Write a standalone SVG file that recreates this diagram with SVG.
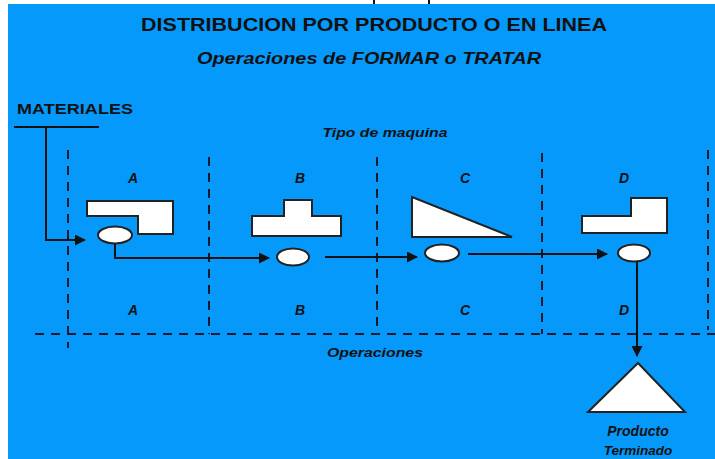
<svg xmlns="http://www.w3.org/2000/svg" width="715" height="459" viewBox="0 0 715 459">
<style>
.t{font-family:"Liberation Sans",Arial,sans-serif;font-weight:bold;fill:#111;}
.i{font-style:italic;}
.dash{stroke:#1a1a2a;stroke-width:2;stroke-dasharray:9 7;fill:none;}
.shape{fill:#fff;stroke:#222;stroke-width:2;}
.conn{stroke:#111;stroke-width:2;fill:none;}
</style>
<defs>
<marker id="ah" markerWidth="11" markerHeight="11" refX="10" refY="5.5" orient="auto" markerUnits="userSpaceOnUse">
<path d="M0,0 L11,5.5 L0,11 Z" fill="#111"/>
</marker>
</defs>
<rect x="0" y="0" width="715" height="459" fill="#fff"/>
<rect x="8" y="4" width="707" height="455" fill="#0599fb"/>
<line x1="374" y1="0" x2="374" y2="4" stroke="#111" stroke-width="2"/>
<line x1="429" y1="0" x2="429" y2="4" stroke="#111" stroke-width="2"/>

<g id="titles">
<text class="t" x="374" y="31" font-size="18.5" text-anchor="middle" textLength="466" lengthAdjust="spacingAndGlyphs">DISTRIBUCION POR PRODUCTO O EN LINEA</text>
<text class="t i" x="369" y="64" font-size="16" text-anchor="middle" textLength="344" lengthAdjust="spacingAndGlyphs">Operaciones de FORMAR o TRATAR</text>
<text class="t i" x="385" y="137" font-size="13" text-anchor="middle" textLength="125" lengthAdjust="spacingAndGlyphs">Tipo de maquina</text>
<text class="t i" x="375" y="357" font-size="13" text-anchor="middle" textLength="96" lengthAdjust="spacingAndGlyphs">Operaciones</text>
</g>

<g id="grid">
<line class="dash" x1="68" y1="150" x2="68" y2="348"/>
<line class="dash" x1="209" y1="157" x2="209" y2="334"/>
<line class="dash" x1="377" y1="157" x2="377" y2="334"/>
<line class="dash" x1="542" y1="153" x2="542" y2="334"/>
<line class="dash" x1="708" y1="150" x2="708" y2="330"/>
<line class="dash" x1="35" y1="334" x2="715" y2="334"/>
</g>

<g id="materiales">
<text class="t" x="17" y="114" font-size="15" textLength="116" lengthAdjust="spacingAndGlyphs">MATERIALES</text>
<line x1="14" y1="127" x2="99" y2="127" stroke="#111" stroke-width="2"/>
</g>

<g id="labels">
<text class="t i" x="133" y="183" font-size="14" text-anchor="middle">A</text>
<text class="t i" x="300" y="183" font-size="14" text-anchor="middle">B</text>
<text class="t i" x="465" y="183" font-size="14" text-anchor="middle">C</text>
<text class="t i" x="624" y="183" font-size="14" text-anchor="middle">D</text>
<text class="t i" x="133" y="315" font-size="14" text-anchor="middle">A</text>
<text class="t i" x="300" y="315" font-size="14" text-anchor="middle">B</text>
<text class="t i" x="465" y="315" font-size="14" text-anchor="middle">C</text>
<text class="t i" x="624" y="315" font-size="14" text-anchor="middle">D</text>
</g>

<g id="machineA">
<polygon class="shape" points="87,201 173,201 173,234 138,234 138,216 87,216"/>
<ellipse class="shape" cx="115" cy="235" rx="17" ry="8.5"/>
</g>
<g id="machineB">
<polygon class="shape" points="284,200 312,200 312,216 341,216 341,236 252,236 252,216 284,216"/>
<ellipse class="shape" cx="293" cy="257" rx="16" ry="8.5"/>
</g>
<g id="machineC">
<polygon class="shape" points="412,197 412,237 512,237"/>
<ellipse class="shape" cx="442" cy="253" rx="17" ry="8.5"/>
</g>
<g id="machineD">
<polygon class="shape" points="582,216 631,216 631,198 667,198 667,233 582,233"/>
<ellipse class="shape" cx="634" cy="253" rx="16" ry="8.5"/>
</g>

<g id="producto">
<polygon class="shape" points="638,363 685,412 588,412"/>
<text class="t i" x="638" y="436" font-size="14" text-anchor="middle">Producto</text>
<text class="t i" x="638" y="455" font-size="13.5" text-anchor="middle">Terminado</text>
</g>

<g id="connectors">
<polyline class="conn" points="46,127 46,240 85,240" marker-end="url(#ah)"/>
<polyline class="conn" points="115,244 115,258 269,258" marker-end="url(#ah)"/>
<line class="conn" x1="325" y1="257" x2="417" y2="257" marker-end="url(#ah)"/>
<line class="conn" x1="468" y1="254" x2="607" y2="254" marker-end="url(#ah)"/>
<line class="conn" x1="637" y1="262" x2="637" y2="356" marker-end="url(#ah)"/>
</g>
</svg>
